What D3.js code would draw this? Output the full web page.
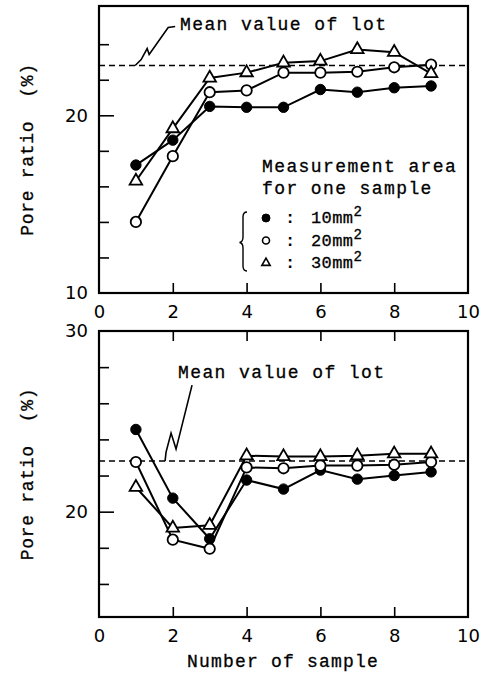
<!DOCTYPE html>
<html><head><meta charset="utf-8">
<script src="https://cdn.jsdelivr.net/npm/d3@7"></script>
<style>body{margin:0;background:#fff} text{white-space:pre}</style>
</head><body>
<script>
// ---- data ----
const samples = [1,2,3,4,5,6,7,8,9];
const topFilled = [17.2,18.6,20.5,20.45,20.45,21.45,21.3,21.55,21.65];
const topOpen   = [14.0,17.7,21.3,21.4,22.4,22.4,22.45,22.7,22.85];
const topTri    = [16.3,19.25,22.1,22.4,22.95,23.05,23.7,23.55,22.35];
const botFilled = [24.55,20.75,18.5,21.75,21.25,22.3,21.8,22.0,22.2];
const botOpen   = [22.75,18.45,17.95,22.45,22.4,22.55,22.55,22.6,22.75];
const botTri    = [21.35,19.1,19.25,23.1,23.05,23.05,23.1,23.2,23.2];
const lotMean = 22.8;
const xTickLabels = [0,2,4,6,8,10];
const xMinorTicks = [2,4,6,8];
const topYTicks = [12,14,16,18,20,22,24];
const topYLabels = [10,20];
const botYTicks = [16,18,20,22,24,26,28];
const botYLabels = [20,30];
const seriesKinds = ["filled","open","tri"];
const legendLabels = ["10mm","20mm","30mm"];
const meanLabel = "Mean value of lot";
const yTitle = "Pore ratio  (%)";
const xTitle = "Number of sample";

// ---- drawing ----
const W=492,H=675;
const MONO = "'Liberation Mono', 'DejaVu Sans Mono', monospace";
const SANS = "'DejaVu Sans', sans-serif";
const svg = d3.select("body").append("svg").attr("width",W).attr("height",H)
  .style("background","#fff");

const x = d3.scaleLinear().domain([0,10]).range([99,468]);
const yTop = d3.scaleLinear().domain([10,26.15]).range([293,6]);
const yBot = d3.scaleLinear().domain([14.17,30]).range([617,331]);

function monoText(sel, size, spacing){
  return sel.attr("font-family",MONO).attr("font-size",size).attr("letter-spacing",spacing)
    .attr("fill","#000").attr("stroke","#000").attr("stroke-width",0.3);
}

function marker(g, kind, cx, cy, big){
  if(kind==="filled"){
    g.append("circle").attr("cx",cx).attr("cy",cy).attr("r",big?5.2:4)
      .attr("fill","#000").attr("stroke","#000").attr("stroke-width",1);
  } else if(kind==="open"){
    g.append("circle").attr("cx",cx).attr("cy",cy).attr("r",big?5.2:3.5)
      .attr("fill","#fff").attr("stroke","#000").attr("stroke-width",big?1.8:1.6);
  } else {
    g.append("path").attr("d",d3.symbol(d3.symbolTriangle).size(big?68:30)())
      .attr("transform",`translate(${cx},${cy})`)
      .attr("fill","#fff").attr("stroke","#000").attr("stroke-width",big?1.8:1.6);
  }
}

function panel(y, yTicks, yLabels, seriesList, note, showTopTicks){
  const g = svg.append("g");
  const y0 = y.range()[0], y1 = y.range()[1];
  const la = g.append("g").attr("transform",`translate(${x(0)},0)`)
    .call(d3.axisLeft(y).tickValues(yTicks).tickSize(-10).tickFormat(""));
  la.select(".domain").remove();
  la.selectAll(".tick line").attr("stroke","#000").attr("stroke-width",1.6)
    .attr("x2", d => d===20 ? 15 : 10);
  const ll = g.append("g").attr("transform",`translate(${x(0)},0)`)
    .call(d3.axisLeft(y).tickValues(yLabels).tickSize(0).tickPadding(11).tickFormat(d3.format("d")));
  ll.select(".domain").remove();
  ll.selectAll("text").attr("font-family",SANS).attr("font-size",18).attr("fill","#000");
  const ba = g.append("g").attr("transform",`translate(0,${y0})`)
    .call(d3.axisBottom(x).tickValues(xMinorTicks).tickSize(-10).tickFormat(""));
  ba.select(".domain").remove();
  ba.selectAll(".tick line").attr("stroke","#000").attr("stroke-width",1.6);
  if(showTopTicks){
    const ta = g.append("g").attr("transform",`translate(0,${y1})`)
      .call(d3.axisTop(x).tickValues(xMinorTicks).tickSize(-10).tickFormat(""));
    ta.select(".domain").remove();
    ta.selectAll(".tick line").attr("stroke","#000").attr("stroke-width",1.6);
  }
  const bl = g.append("g").attr("transform",`translate(0,${y0})`)
    .call(d3.axisBottom(x).tickValues(xTickLabels).tickSize(0).tickPadding(12).tickFormat(d3.format("d")));
  bl.select(".domain").remove();
  bl.selectAll("text").attr("font-family",SANS).attr("font-size",18).attr("fill","#000");
  g.append("rect").attr("x",x(0)).attr("y",y1).attr("width",x(10)-x(0)).attr("height",y0-y1)
    .attr("fill","none").attr("stroke","#000").attr("stroke-width",2.2);
  g.append("line").attr("x1",x(0)).attr("x2",x(10)).attr("y1",y(lotMean)).attr("y2",y(lotMean))
    .attr("stroke","#000").attr("stroke-width",1.5).attr("stroke-dasharray","6,4");
  const ax = x(note.at), ay = y(lotMean);
  g.append("path").attr("d", d3.line()(note.offs.map(p=>[ax+p[0], ay+p[1]])))
    .attr("fill","none").attr("stroke","#000").attr("stroke-width",1.6).attr("stroke-linejoin","miter");
  monoText(g.append("text").attr("x",note.tx).attr("y",note.ty).text(meanLabel), 18, 1.4);
  const line = d3.line().x((d,i)=>x(samples[i])).y(d=>y(d));
  seriesList.forEach(s=>{
    g.append("path").attr("d",line(s.values)).attr("fill","none")
      .attr("stroke","#000").attr("stroke-width",2);
  });
  seriesList.forEach(s=>{
    s.values.forEach((v,i)=> marker(g, s.kind, x(samples[i]), y(v), true));
  });
  monoText(g.append("text").attr("transform",`translate(33,${(y0+y1)/2}) rotate(-90)`)
    .attr("text-anchor","middle").text(yTitle), 18, 0.7);
  return g;
}

panel(yTop, topYTicks, topYLabels,
  [{kind:"filled",values:topFilled},{kind:"open",values:topOpen},{kind:"tri",values:topTri}],
  {at:0.98, offs:[[40,-39],[33,-38],[14,-11],[12,-17],[6,-6],[0,0]], tx:180, ty:30}, false);

panel(yBot, botYTicks, botYLabels,
  [{kind:"filled",values:botFilled},{kind:"open",values:botOpen},{kind:"tri",values:botTri}],
  {at:1.79, offs:[[27,-76],[11,-12],[6,-28],[1,-9],[0,0]], tx:178, ty:378}, true);

// legend (top panel)
const lg = svg.append("g");
monoText(lg.append("text").attr("x",262).attr("y",172).text("Measurement area"), 18, 1.4);
monoText(lg.append("text").attr("x",262).attr("y",194).text("for one sample"), 18, 1.4);
const rowY = [218, 240.5, 263];
seriesKinds.forEach((k,i)=>{
  marker(lg, k, 266, rowY[i], false);
  lg.append("text").attr("x",290).attr("y",rowY[i]+5).attr("text-anchor","middle").text(":")
    .attr("font-family",MONO).attr("font-size",17).attr("font-weight","bold").attr("fill","#000");
  const t = monoText(lg.append("text").attr("x",311).attr("y",rowY[i]+5), 17, 0.4);
  t.append("tspan").text(legendLabels[i]);
  t.append("tspan").attr("dy",-7).attr("font-size",14).text("2");
});
lg.append("path")
  .attr("d","M247,212 Q243,212 243,217 L243,237 Q243,242 239.5,242.5 Q243,243 243,248 L243,266 Q243,271 247,271")
  .attr("fill","none").attr("stroke","#000").attr("stroke-width",1.4);

// x title
monoText(svg.append("text").attr("x",283).attr("y",667).attr("text-anchor","middle").text(xTitle), 18, 1.2);
</script>
</body></html>
